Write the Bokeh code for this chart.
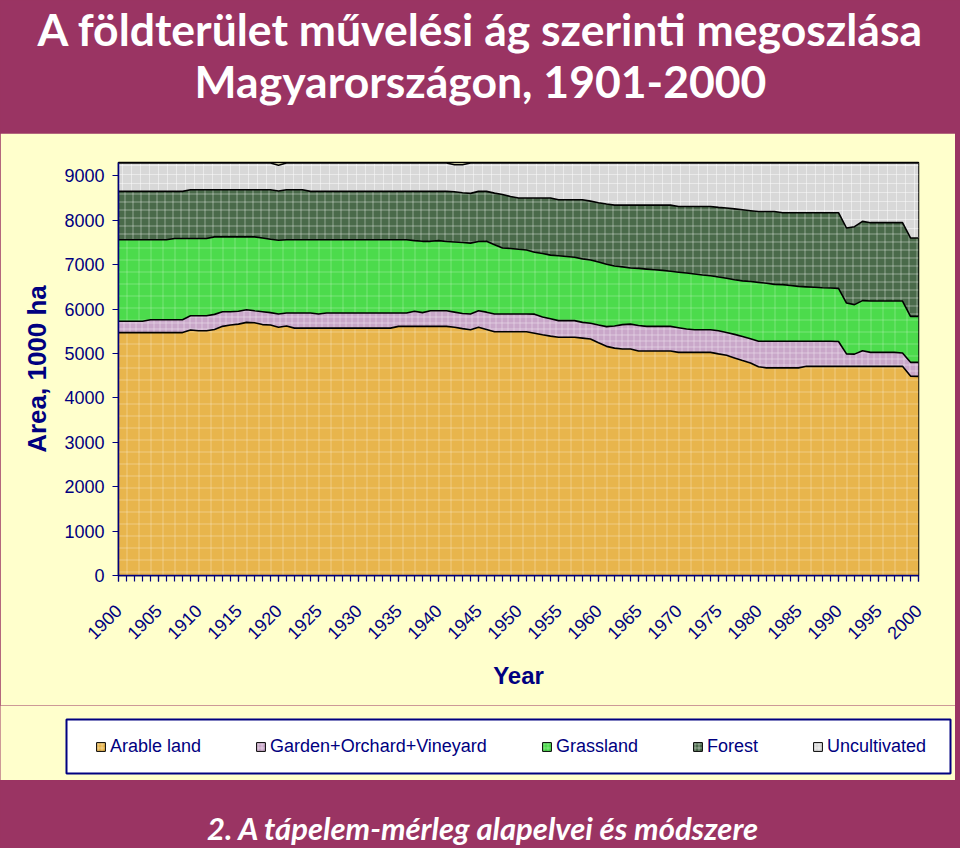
import numpy as np
from math import pi
from bokeh.plotting import figure
from bokeh.models import (Range1d, FixedTicker, SingleIntervalTicker, Legend,
                          LegendItem, ColumnDataSource)
from bokeh.layouts import column
from bokeh.core.properties import value
from bokeh.embed import file_html
from bokeh.resources import INLINE

# ---------------- data (1000 ha) ----------------
years = list(range(1900, 2001))

arable = [
    5470, 5470, 5470, 5470, 5470, 5470, 5470, 5470, 5470, 5530,
    5510, 5510, 5540, 5610, 5640, 5660, 5700, 5690, 5650, 5640,
    5590, 5620, 5570, 5570, 5570, 5570, 5570, 5570, 5570, 5570,
    5570, 5570, 5570, 5570, 5570, 5610, 5610, 5610, 5610, 5610,
    5610, 5610, 5590, 5560, 5535, 5590, 5540, 5490, 5490, 5490,
    5490, 5490, 5455, 5420, 5390, 5365, 5365, 5365, 5345, 5325,
    5240, 5160, 5120, 5100, 5100, 5055, 5055, 5055, 5055, 5055,
    5025, 5025, 5025, 5025, 5025, 4990, 4960, 4900, 4840, 4785,
    4700, 4675, 4675, 4675, 4675, 4675, 4710, 4710, 4710, 4710,
    4710, 4710, 4710, 4710, 4710, 4710, 4710, 4710, 4710, 4490,
    4485]

garden = [
    255, 255, 255, 255, 290, 290, 290, 290, 290, 320,
    340, 340, 340, 330, 300, 290, 285, 270, 290, 280,
    300, 290, 340, 340, 340, 320, 340, 340, 340, 340,
    340, 340, 340, 340, 340, 300, 300, 340, 310, 350,
    350, 350, 340, 340, 355, 370, 390, 400, 400, 400,
    400, 400, 430, 400, 390, 375, 375, 375, 355, 355,
    400, 445, 500, 550, 560, 575, 555, 555, 555, 555,
    555, 525, 510, 510, 510, 520, 510, 530, 540, 545,
    575, 600, 600, 600, 600, 600, 565, 565, 565, 565,
    560, 280, 275, 350, 315, 315, 315, 315, 300, 310,
    315]

grassland = [
    1835, 1835, 1835, 1835, 1800, 1800, 1800, 1830, 1830, 1740,
    1740, 1740, 1745, 1685, 1685, 1675, 1640, 1665, 1660, 1650,
    1660, 1650, 1650, 1650, 1650, 1670, 1650, 1650, 1650, 1650,
    1650, 1650, 1650, 1650, 1650, 1650, 1650, 1590, 1605, 1565,
    1580, 1560, 1580, 1600, 1595, 1560, 1595, 1560, 1485, 1475,
    1455, 1440, 1395, 1430, 1435, 1460, 1445, 1425, 1430, 1425,
    1420, 1405, 1350, 1300, 1265, 1285, 1290, 1275, 1260, 1240,
    1250, 1260, 1255, 1230, 1215, 1210, 1225, 1230, 1255, 1290,
    1325, 1305, 1280, 1275, 1255, 1235, 1225, 1215, 1205, 1200,
    1195, 1145, 1115, 1130, 1155, 1155, 1155, 1155, 1170, 1035,
    1035]

forest = [
    1090, 1090, 1090, 1090, 1090, 1090, 1090, 1060, 1060, 1095,
    1095, 1095, 1060, 1060, 1060, 1060, 1060, 1060, 1085, 1115,
    1110, 1125, 1125, 1125, 1090, 1090, 1090, 1090, 1090, 1090,
    1090, 1090, 1090, 1090, 1090, 1090, 1090, 1110, 1125, 1125,
    1110, 1130, 1130, 1120, 1120, 1130, 1125, 1160, 1205, 1170,
    1155, 1170, 1220, 1250, 1285, 1260, 1275, 1295, 1330, 1325,
    1335, 1355, 1370, 1390, 1415, 1425, 1440, 1455, 1470, 1490,
    1480, 1500, 1520, 1545, 1560, 1570, 1580, 1595, 1600, 1595,
    1595, 1615, 1640, 1620, 1640, 1660, 1670, 1680, 1690, 1695,
    1705, 1690, 1755, 1785, 1765, 1765, 1765, 1765, 1765, 1765,
    1765]

uncultivated = [
    640, 640, 640, 640, 640, 640, 640, 640, 640, 605,
    605, 605, 605, 605, 605, 605, 605, 605, 605, 605,
    580, 605, 605, 605, 640, 640, 640, 640, 640, 640,
    640, 640, 640, 640, 640, 640, 640, 640, 640, 640,
    640, 640, 610, 630, 685, 640, 640, 680, 710, 755,
    790, 790, 790, 790, 790, 830, 830, 830, 830, 860,
    895, 925, 950, 950, 950, 950, 950, 950, 950, 950,
    980, 980, 980, 980, 980, 1000, 1015, 1035, 1055, 1075,
    1095, 1095, 1095, 1120, 1120, 1120, 1120, 1120, 1120, 1120,
    1120, 1465, 1435, 1315, 1345, 1345, 1345, 1345, 1345, 1690,
    1690]

series_names = ["Arable land", "Garden+Orchard+Vineyard", "Grassland",
                "Forest", "Uncultivated"]
y_ticks = [0, 1000, 2000, 3000, 4000, 5000, 6000, 7000, 8000, 9000]

title_lines = ["A földterület művelési ág szerinti megoszlása",
               "Magyarországon, 1901-2000"]
footer_text = "2. A tápelem-mérleg alapelvei és módszere"

# ---------------- styles ----------------
PURPLE = "#9A3463"
YELLOW = "#FFFFCC"
NAVY = "#000080"
fill_colors = ["#E8B54C", "#C9A7C9", "#4CDB4C", "#4A6A4A", "#D8D8D8"]
hatch_scales = [12, 6, 12, 8, 9]
hatch_alphas = [0.30, 0.35, 0.25, 0.40, 0.45]


def no_align(f):
    if "frame_align" in f.properties():
        f.frame_align = False
    return f


def banner(width, height):
    f = figure(width=width, height=height, x_range=Range1d(0, width),
               y_range=Range1d(height, 0), toolbar_location=None,
               output_backend="svg", min_border=0,
               x_axis_location=None, y_axis_location=None,
               background_fill_color=PURPLE, border_fill_color=PURPLE,
               outline_line_color=None)
    f.grid.visible = False
    return no_align(f)


# ---------------- title banner ----------------
pt = banner(960, 133)
pt.text(x=[480, 480], y=[28, 80], text=title_lines, text_align="center",
        text_baseline="alphabetic", text_font=value("Lato"),
        text_font_style="bold", text_font_size="44.5px", text_color="white")

# ---------------- chart ----------------
data = np.array([arable, garden, grassland, forest, uncultivated], dtype=float)
tops = np.cumsum(data, axis=0)
bottoms = np.vstack([np.zeros(len(years)), tops[:-1]])
src_dict = {"year": years}
for i in range(len(series_names)):
    src_dict[f"b{i}"] = bottoms[i]
    src_dict[f"t{i}"] = tops[i]
src = ColumnDataSource(src_dict)

p = figure(width=955, height=572, x_range=Range1d(1900, 2000),
           y_range=Range1d(0, 9300), toolbar_location=None,
           output_backend="svg", min_border_left=118, min_border_right=37,
           min_border_top=29, min_border_bottom=130,
           background_fill_color=YELLOW, border_fill_color=YELLOW,
           outline_line_color="black", outline_line_width=1.5)
p.grid.visible = False
no_align(p)

for i in range(len(series_names)):
    p.varea(x="year", y1=f"b{i}", y2=f"t{i}", source=src,
            fill_color=fill_colors[i], hatch_pattern="+",
            hatch_color="white", hatch_alpha=hatch_alphas[i],
            hatch_scale=hatch_scales[i], hatch_weight=1)
for i in range(len(series_names)):
    p.line(x="year", y=f"t{i}", source=src, line_color="black", line_width=1.6)

# shared axis styling
p.axis.major_label_text_font = "Liberation Sans"
p.axis.major_label_text_font_size = "18px"
p.axis.major_label_text_color = NAVY
p.axis.axis_label_text_font = "Liberation Sans"
p.axis.axis_label_text_font_style = "bold"
p.axis.axis_label_text_color = NAVY
p.axis.axis_line_color = NAVY
p.axis.axis_line_width = 1.5
p.axis.major_tick_line_color = NAVY
p.axis.major_tick_line_width = 1.2
p.axis.major_tick_out = 6
p.axis.major_tick_in = 0

# y axis
p.yaxis.ticker = FixedTicker(ticks=y_ticks)
p.yaxis.axis_label = "Area, 1000 ha"
p.yaxis.axis_label_text_font_size = "26px"
p.yaxis.axis_label_standoff = 9
p.yaxis.major_label_standoff = 8
p.yaxis.minor_tick_line_color = None

# x axis
p.xaxis.ticker = SingleIntervalTicker(interval=5, num_minor_ticks=5)
p.xaxis.axis_label = "Year"
p.xaxis.axis_label_text_font_size = "24px"
p.xaxis.axis_label_standoff = 14
p.xaxis.major_label_orientation = pi / 4
p.xaxis.major_label_standoff = 26
p.xaxis.minor_tick_line_color = NAVY
p.xaxis.minor_tick_line_width = 1.2
p.xaxis.minor_tick_out = 6
p.xaxis.minor_tick_in = 0

# ---------------- legend strip ----------------
pl = figure(width=955, height=75, x_range=Range1d(0, 955), y_range=Range1d(0, 75),
            toolbar_location=None, output_backend="svg", min_border=0,
            x_axis_location=None, y_axis_location=None,
            background_fill_color=YELLOW, border_fill_color=YELLOW,
            outline_line_color=None)
pl.grid.visible = False
no_align(pl)
pl.quad(left=[66], right=[950], bottom=[7], top=[61], fill_color="white",
        line_color=NAVY, line_width=2)
items = []
for i in range(len(series_names)):
    # legend swatches: same series data, lying outside this strip's view
    r = pl.quad(left="year", right="year", bottom=f"b{i}", top=f"t{i}",
                source=src, fill_color=fill_colors[i],
                line_color="black", line_width=1, hatch_pattern="+",
                hatch_color="white", hatch_alpha=hatch_alphas[i],
                hatch_scale=4)
    items.append(LegendItem(label=series_names[i], renderers=[r]))
legend = Legend(items=items, orientation="horizontal", location=(95, 23),
                background_fill_alpha=0, border_line_color=None,
                label_text_font="Liberation Sans", label_text_font_size="18px",
                label_text_color=NAVY, glyph_width=11, glyph_height=11,
                label_standoff=4, spacing=54, padding=0, margin=0)
pl.add_layout(legend)

# ---------------- footer banner ----------------
pf = banner(960, 68)
pf.text(x=[483], y=[47], text=[footer_text], text_align="center",
        text_baseline="alphabetic", text_font=value("Lato"),
        text_font_style="bold italic", text_font_size="31px", text_color="white")

layout = column(pt, p, pl, pf, spacing=0, styles={"background-color": PURPLE})

open("out.html", "w").write(file_html(layout, INLINE))
